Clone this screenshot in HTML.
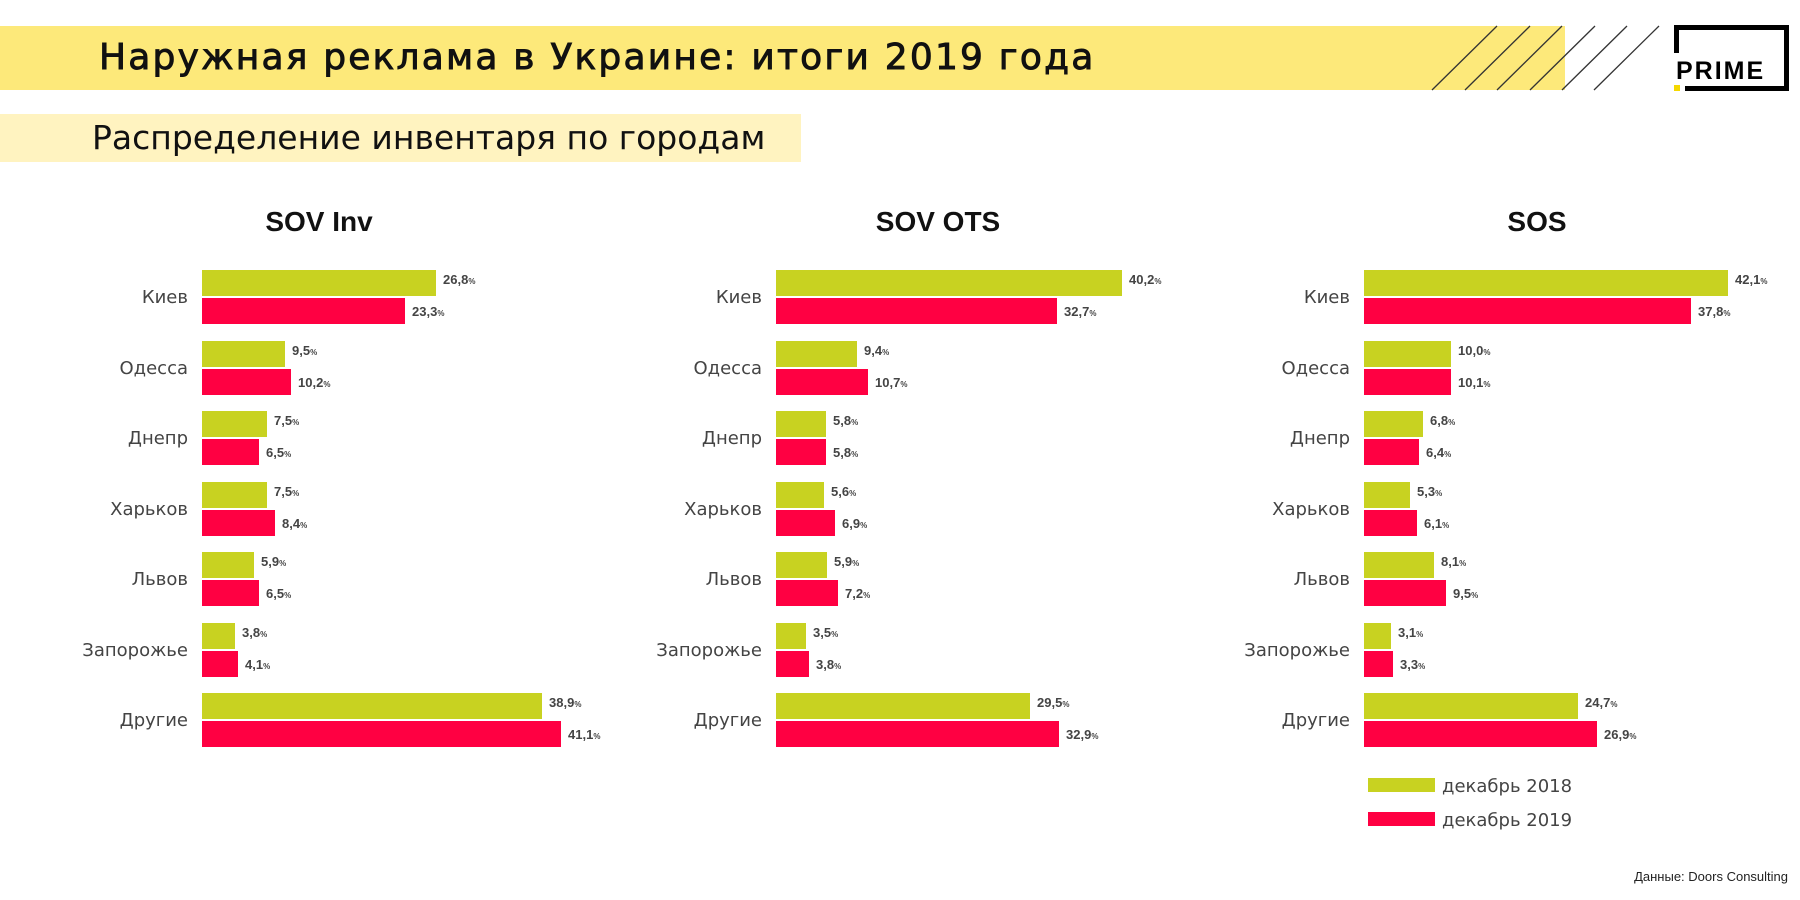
<!DOCTYPE html>
<html><head><meta charset="utf-8"><style>
html,body{margin:0;padding:0;background:#fff;width:1800px;height:900px;overflow:hidden}
svg{display:block;font-family:"DejaVu Sans","Liberation Sans",sans-serif}
.c{font-size:18px;fill:#444;text-anchor:end}
.v{font-size:13px;font-weight:bold;fill:#444;font-family:"Liberation Sans",sans-serif}
.p{font-size:8px}
.t{font-size:28px;font-weight:bold;fill:#111;text-anchor:middle;font-family:"Liberation Sans",sans-serif}
</style></head><body>
<svg width="1800" height="900" viewBox="0 0 1800 900">
<rect x="0" y="26" width="1565" height="64" fill="#fde97a"/>
<g stroke="#333" stroke-width="1.3">
<line x1="1432" y1="90" x2="1497" y2="26"/><line x1="1465" y1="90" x2="1530" y2="26"/>
<line x1="1497" y1="90" x2="1562" y2="26"/><line x1="1530" y1="90" x2="1595" y2="26"/>
<line x1="1562" y1="90" x2="1627" y2="26"/><line x1="1594" y1="90" x2="1659" y2="26"/>
</g>
<text x="99" y="69" font-size="36" fill="#111" stroke="#111" stroke-width="0.9" letter-spacing="2.2">Наружная реклама в Украине: итоги 2019 года</text>
<rect x="1674" y="25" width="115" height="5" fill="#000"/>
<rect x="1674" y="25" width="5" height="28" fill="#000"/>
<rect x="1784" y="25" width="5" height="66" fill="#000"/>
<rect x="1685" y="86" width="104" height="5" fill="#000"/>
<rect x="1674" y="85" width="6" height="6" fill="#f5d800"/>
<text x="1676" y="79" font-size="25" font-weight="bold" fill="#000" letter-spacing="2" font-family="Liberation Sans,sans-serif">PRIME</text>
<rect x="0" y="114" width="801" height="48" fill="#fff3c0"/>
<text x="92" y="149" font-size="33" fill="#111">Распределение инвентаря по городам</text>

<text class="t" x="319" y="231">SOV Inv</text>
<text class="t" x="938" y="231">SOV OTS</text>
<text class="t" x="1537" y="231">SOS</text>

<g class="c">
<text x="188" y="303">Киев</text><text x="188" y="374">Одесса</text><text x="188" y="444">Днепр</text><text x="188" y="515">Харьков</text><text x="188" y="585">Львов</text><text x="188" y="656">Запорожье</text><text x="188" y="726">Другие</text>
</g>
<g class="c">
<text x="762" y="303">Киев</text><text x="762" y="374">Одесса</text><text x="762" y="444">Днепр</text><text x="762" y="515">Харьков</text><text x="762" y="585">Львов</text><text x="762" y="656">Запорожье</text><text x="762" y="726">Другие</text>
</g>
<g class="c">
<text x="1350" y="303">Киев</text><text x="1350" y="374">Одесса</text><text x="1350" y="444">Днепр</text><text x="1350" y="515">Харьков</text><text x="1350" y="585">Львов</text><text x="1350" y="656">Запорожье</text><text x="1350" y="726">Другие</text>
</g>

<g fill="#c8d221">
<rect x="202" y="270" width="234" height="26"/><rect x="202" y="341" width="83" height="26"/><rect x="202" y="411" width="65" height="26"/><rect x="202" y="482" width="65" height="26"/><rect x="202" y="552" width="52" height="26"/><rect x="202" y="623" width="33" height="26"/><rect x="202" y="693" width="340" height="26"/>
</g>
<g fill="#ff0042">
<rect x="202" y="298" width="203" height="26"/><rect x="202" y="369" width="89" height="26"/><rect x="202" y="439" width="57" height="26"/><rect x="202" y="510" width="73" height="26"/><rect x="202" y="580" width="57" height="26"/><rect x="202" y="651" width="36" height="26"/><rect x="202" y="721" width="359" height="26"/>
</g>
<g class="v">
<text x="443" y="284">26,8<tspan class="p">%</tspan></text><text x="412" y="316">23,3<tspan class="p">%</tspan></text>
<text x="292" y="355">9,5<tspan class="p">%</tspan></text><text x="298" y="387">10,2<tspan class="p">%</tspan></text>
<text x="274" y="425">7,5<tspan class="p">%</tspan></text><text x="266" y="457">6,5<tspan class="p">%</tspan></text>
<text x="274" y="496">7,5<tspan class="p">%</tspan></text><text x="282" y="528">8,4<tspan class="p">%</tspan></text>
<text x="261" y="566">5,9<tspan class="p">%</tspan></text><text x="266" y="598">6,5<tspan class="p">%</tspan></text>
<text x="242" y="637">3,8<tspan class="p">%</tspan></text><text x="245" y="669">4,1<tspan class="p">%</tspan></text>
<text x="549" y="707">38,9<tspan class="p">%</tspan></text><text x="568" y="739">41,1<tspan class="p">%</tspan></text>
</g>

<g fill="#c8d221">
<rect x="776" y="270" width="346" height="26"/><rect x="776" y="341" width="81" height="26"/><rect x="776" y="411" width="50" height="26"/><rect x="776" y="482" width="48" height="26"/><rect x="776" y="552" width="51" height="26"/><rect x="776" y="623" width="30" height="26"/><rect x="776" y="693" width="254" height="26"/>
</g>
<g fill="#ff0042">
<rect x="776" y="298" width="281" height="26"/><rect x="776" y="369" width="92" height="26"/><rect x="776" y="439" width="50" height="26"/><rect x="776" y="510" width="59" height="26"/><rect x="776" y="580" width="62" height="26"/><rect x="776" y="651" width="33" height="26"/><rect x="776" y="721" width="283" height="26"/>
</g>
<g class="v">
<text x="1129" y="284">40,2<tspan class="p">%</tspan></text><text x="1064" y="316">32,7<tspan class="p">%</tspan></text>
<text x="864" y="355">9,4<tspan class="p">%</tspan></text><text x="875" y="387">10,7<tspan class="p">%</tspan></text>
<text x="833" y="425">5,8<tspan class="p">%</tspan></text><text x="833" y="457">5,8<tspan class="p">%</tspan></text>
<text x="831" y="496">5,6<tspan class="p">%</tspan></text><text x="842" y="528">6,9<tspan class="p">%</tspan></text>
<text x="834" y="566">5,9<tspan class="p">%</tspan></text><text x="845" y="598">7,2<tspan class="p">%</tspan></text>
<text x="813" y="637">3,5<tspan class="p">%</tspan></text><text x="816" y="669">3,8<tspan class="p">%</tspan></text>
<text x="1037" y="707">29,5<tspan class="p">%</tspan></text><text x="1066" y="739">32,9<tspan class="p">%</tspan></text>
</g>

<g fill="#c8d221">
<rect x="1364" y="270" width="364" height="26"/><rect x="1364" y="341" width="87" height="26"/><rect x="1364" y="411" width="59" height="26"/><rect x="1364" y="482" width="46" height="26"/><rect x="1364" y="552" width="70" height="26"/><rect x="1364" y="623" width="27" height="26"/><rect x="1364" y="693" width="214" height="26"/>
</g>
<g fill="#ff0042">
<rect x="1364" y="298" width="327" height="26"/><rect x="1364" y="369" width="87" height="26"/><rect x="1364" y="439" width="55" height="26"/><rect x="1364" y="510" width="53" height="26"/><rect x="1364" y="580" width="82" height="26"/><rect x="1364" y="651" width="29" height="26"/><rect x="1364" y="721" width="233" height="26"/>
</g>
<g class="v">
<text x="1735" y="284">42,1<tspan class="p">%</tspan></text><text x="1698" y="316">37,8<tspan class="p">%</tspan></text>
<text x="1458" y="355">10,0<tspan class="p">%</tspan></text><text x="1458" y="387">10,1<tspan class="p">%</tspan></text>
<text x="1430" y="425">6,8<tspan class="p">%</tspan></text><text x="1426" y="457">6,4<tspan class="p">%</tspan></text>
<text x="1417" y="496">5,3<tspan class="p">%</tspan></text><text x="1424" y="528">6,1<tspan class="p">%</tspan></text>
<text x="1441" y="566">8,1<tspan class="p">%</tspan></text><text x="1453" y="598">9,5<tspan class="p">%</tspan></text>
<text x="1398" y="637">3,1<tspan class="p">%</tspan></text><text x="1400" y="669">3,3<tspan class="p">%</tspan></text>
<text x="1585" y="707">24,7<tspan class="p">%</tspan></text><text x="1604" y="739">26,9<tspan class="p">%</tspan></text>
</g>

<rect x="1368" y="778" width="67" height="14" fill="#c8d221"/>
<text x="1442" y="792" font-size="18" fill="#444">декабрь 2018</text>
<rect x="1368" y="812" width="67" height="14" fill="#ff0042"/>
<text x="1442" y="826" font-size="18" fill="#444">декабрь 2019</text>
<text x="1788" y="881" font-size="13" fill="#222" text-anchor="end" font-family="Liberation Sans,sans-serif">Данные: Doors Consulting</text>
</svg>
</body></html>
